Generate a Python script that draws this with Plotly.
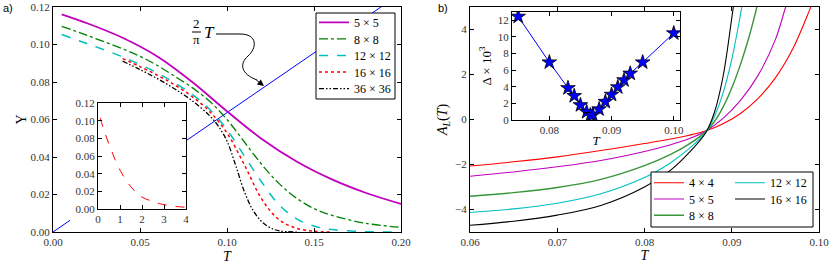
import numpy as np
import plotly.graph_objects as go

W, H = 830, 265

# ---------------- Panel a) : stiffness Upsilon(T) ----------------
a_T_5 = [0.005, 0.02, 0.04, 0.06, 0.08, 0.10, 0.12, 0.14, 0.16, 0.18, 0.20]
a_Y_5 = [0.1161, 0.1112, 0.1036, 0.0936, 0.0800, 0.0644, 0.0496, 0.0376, 0.0282, 0.0208, 0.0150]
a_T_8 = [0.005, 0.02, 0.04, 0.05, 0.06, 0.07, 0.08, 0.09, 0.10, 0.11, 0.12, 0.13, 0.14, 0.15, 0.16, 0.18, 0.20]
a_Y_8 = [0.1097, 0.1047, 0.0977, 0.0937, 0.0888, 0.0830, 0.0770, 0.0697, 0.0600, 0.0480, 0.0360,
         0.0258, 0.0180, 0.0125, 0.0090, 0.0046, 0.0025]
a_T_12 = [0.005, 0.02, 0.04, 0.06, 0.07, 0.08, 0.09, 0.10, 0.11, 0.12, 0.13, 0.14, 0.15, 0.16, 0.18, 0.20]
a_Y_12 = [0.1053, 0.1003, 0.0934, 0.0848, 0.0795, 0.0734, 0.0655, 0.0545, 0.0405, 0.0265, 0.0145,
          0.0070, 0.0032, 0.0013, 0.0002, 0.0]
a_T_16 = [0.04, 0.05, 0.06, 0.07, 0.08, 0.09, 0.10, 0.11, 0.12, 0.13, 0.14, 0.15, 0.16]
a_Y_16 = [0.0925, 0.0882, 0.0836, 0.0784, 0.0722, 0.0643, 0.0528, 0.0358, 0.0175, 0.0065, 0.0020, 0.0004, 0.0]
a_T_36 = [0.04, 0.05, 0.06, 0.07, 0.08, 0.09, 0.095, 0.10, 0.105, 0.11, 0.115, 0.12, 0.125, 0.13, 0.14]
a_Y_36 = [0.0911, 0.0866, 0.0818, 0.0763, 0.0700, 0.0620, 0.0565, 0.0485, 0.0355, 0.0215, 0.0115,
          0.0055, 0.0022, 0.0006, 0.0]

# line 2T/pi (the part hidden behind the inset and its labels is left out)
line_T = [0.0, 0.0098, None, 0.0764, 0.200]
line_Y = [None if t is None else 2.0 / np.pi * t for t in line_T]

# inset of a)
ai_x = [0.1, 0.3, 0.6, 1.0, 1.5, 2.0, 2.5, 2.8, 3.5, 4.0]
ai_y = [0.103, 0.087, 0.067, 0.044, 0.025, 0.0135, 0.0085, 0.0060, 0.0030, 0.0019]

# ---------------- Panel b) : A_L(T) ----------------
b_T_4 = [0.060, 0.065, 0.070, 0.075, 0.080, 0.083, 0.085, 0.087, 0.089, 0.091, 0.093, 0.095, 0.097, 0.099, 0.100]
b_A_4 = [-2.07, -1.88, -1.66, -1.38, -1.07, -0.87, -0.71, -0.51, -0.19, 0.27, 0.93, 1.85, 3.14, 4.94, 5.90]
b_T_5 = [0.060, 0.065, 0.070, 0.075, 0.080, 0.083, 0.085, 0.087, 0.089, 0.091, 0.093, 0.095, 0.0961, 0.0970]
b_A_5 = [-2.52, -2.33, -2.10, -1.82, -1.42, -1.12, -0.87, -0.52, 0.05, 0.85, 1.95, 3.55, 4.90, 6.00]
b_T_8 = [0.060, 0.065, 0.070, 0.075, 0.080, 0.083, 0.085, 0.087, 0.088, 0.089, 0.090, 0.091, 0.092, 0.0927, 0.0930]
b_A_8 = [-3.41, -3.25, -3.02, -2.66, -2.05, -1.55, -1.12, -0.55, -0.10, 0.55, 1.40, 2.45, 3.70, 4.72, 5.20]
b_T_12 = [0.060, 0.065, 0.070, 0.075, 0.080, 0.083, 0.085, 0.087, 0.088, 0.089, 0.090, 0.091, 0.0915]
b_A_12 = [-4.13, -3.97, -3.72, -3.30, -2.58, -1.92, -1.33, -0.58, 0.12, 1.17, 2.67, 4.67, 5.80]
b_T_16 = [0.060, 0.065, 0.070, 0.075, 0.080, 0.083, 0.085, 0.087, 0.088, 0.089, 0.090, 0.0904]
b_A_16 = [-4.70, -4.52, -4.25, -3.82, -3.00, -2.25, -1.52, -0.60, 0.30, 1.90, 4.50, 5.60]

# inset of b) : Delta x 10^3
bi_T = [0.075, 0.080, 0.083, 0.084, 0.085, 0.086, 0.0866, 0.087, 0.088, 0.089, 0.090, 0.091, 0.092, 0.093, 0.095, 0.100]
bi_D = [12.45, 6.95, 3.85, 2.90, 1.80, 0.97, 0.60, 0.60, 1.30, 2.20, 3.05, 3.95, 4.80, 5.60, 6.95, 10.45]

SERIF = "Liberation Serif, DejaVu Serif, serif"
TICKC = "#333333"


def px_x(p):
    return p / W


def px_y(p):
    return 1 - p / H


fig = go.Figure()

# legend entry placement (pixel centres) for the two legend boxes
LEG_A = [("legend", 314, 22.3), ("legend2", 314, 38.9), ("legend3", 314, 55.5),
         ("legend4", 314, 72.1), ("legend5", 314, 88.7)]
LEG_B = [("legend6", 649, 182.7), ("legend7", 649, 199.0), ("legend8", 649, 215.3),
         ("legend9", 730, 182.7), ("legend10", 730, 199.0)]

a_series = [
    (a_T_5, a_Y_5, "5 × 5", dict(color="#bf00bf", width=1.8, dash="solid")),
    (a_T_8, a_Y_8, "8 × 8", dict(color="#008000", width=1.3, dash="dashdot")),
    (a_T_12, a_Y_12, "12 × 12", dict(color="#00bfbf", width=1.5, dash="dash")),
    (a_T_16, a_Y_16, "16 × 16", dict(color="#ff0000", width=1.5, dash="dot")),
    (a_T_36, a_Y_36, "36 × 36", dict(color="#000000", width=1.3, dash="5px,2px,1.5px,2px,1.5px,2px")),
]
fig.add_trace(go.Scatter(x=line_T, y=line_Y, mode="lines", line=dict(color="#0000ff", width=1),
                         showlegend=False, xaxis="x", yaxis="y", hoverinfo="skip"))
for (t, y, nm, ln), (lg, _, _) in zip(a_series, LEG_A):
    fig.add_trace(go.Scatter(x=t, y=y, mode="lines", name=nm, line=dict(shape="spline", **ln),
                             xaxis="x", yaxis="y", legend=lg))

fig.add_trace(go.Scatter(x=ai_x, y=ai_y, mode="lines",
                         line=dict(color="#ff0000", width=1, dash="dash", shape="spline"),
                         showlegend=False, xaxis="x2", yaxis="y2"))

b_series = [
    (b_T_4, b_A_4, "4 × 4", "#ff0000", 1.1),
    (b_T_5, b_A_5, "5 × 5", "#bf00bf", 1.1),
    (b_T_8, b_A_8, "8 × 8", "#3a943a", 1.4),
    (b_T_12, b_A_12, "12 × 12", "#00bfbf", 1.1),
    (b_T_16, b_A_16, "16 × 16", "#000000", 1.1),
]
for (t, a, nm, c, wd), (lg, _, _) in zip(b_series, LEG_B):
    fig.add_trace(go.Scatter(x=t, y=a, mode="lines", name=nm, line=dict(color=c, width=wd, shape="spline"),
                             xaxis="x3", yaxis="y3", legend=lg))

fig.add_trace(go.Scatter(x=bi_T, y=bi_D, mode="lines+markers", line=dict(color="#0000ff", width=1),
                         marker=dict(symbol="star", size=11, color="#0000ff", line=dict(color="#000000", width=0.8)),
                         showlegend=False, xaxis="x4", yaxis="y4"))


def ax(dom_px, horizontal, rng, dtick, fmt, tick0=None):
    if horizontal:
        d = [px_x(dom_px[0]), px_x(dom_px[1])]
    else:
        d = [px_y(dom_px[1]), px_y(dom_px[0])]
    out = dict(domain=d, range=rng, dtick=dtick, tickformat=fmt, ticks="inside", ticklen=4,
               tickcolor="black", showline=True, linecolor="black", linewidth=1, mirror="ticks",
               showgrid=False, zeroline=False, automargin=False,
               tickfont=dict(family=SERIF, size=11, color=TICKC))
    if tick0 is not None:
        out["tick0"] = tick0
    return out


TF = dict(family=SERIF, size=14, color="black")
LEGF = dict(family=SERIF, size=12, color="black")

legends = {}
for lg, lx, cy in LEG_A + LEG_B:
    legends[lg] = dict(x=px_x(lx), y=px_y(cy - 14.5), xanchor="left", yanchor="top",
                       bgcolor="rgba(0,0,0,0)", borderwidth=0, itemwidth=30, font=LEGF)

fig.update_layout(
    width=W, height=H, margin=dict(l=0, r=0, t=0, b=0, pad=0, autoexpand=False),
    paper_bgcolor="white", plot_bgcolor="white",
    xaxis=dict(**ax([53, 401], True, [0, 0.2], 0.05, ".2f", 0), anchor="y",
               title=dict(text="<i>T</i>", font=TF, standoff=3)),
    yaxis=dict(**ax([7, 232], False, [0, 0.12], 0.02, ".2f", 0), anchor="x",
               title=dict(text="Υ", font=TF, standoff=0)),
    xaxis2=dict(**ax([98, 186], True, [0, 4], 1, "d", 0), anchor="y2"),
    yaxis2=dict(**ax([103, 209], False, [0, 0.12], 0.02, ".2f", 0), anchor="x2"),
    xaxis3=dict(**ax([470, 819], True, [0.06, 0.10], 0.01, ".2f", 0.06), anchor="y3",
                title=dict(text="<i>T</i>", font=TF, standoff=0)),
    yaxis3=dict(**ax([7, 232], False, [-5, 5], 2, "d", 0), anchor="x3",
                title=dict(text="<i>A<sub>L</sub></i>(<i>T</i>)", font=TF, standoff=4)),
    xaxis4=dict(**ax([512, 680], True, [0.074, 0.101], 0.01, ".2f", 0.08), anchor="y4",
                title=dict(text="<i>T</i>", font=dict(family=SERIF, size=13, color="black"), standoff=0)),
    yaxis4=dict(**ax([12, 120], False, [0, 13], 2, "d", 0), anchor="x4",
                title=dict(text="Δ × 10<sup>3</sup>", font=dict(family=SERIF, size=13, color="black"), standoff=3)),
    **legends,
)

shapes = [
    dict(type="rect", xref="paper", yref="paper", x0=px_x(316), x1=px_x(395), y0=px_y(99), y1=px_y(13),
         fillcolor="white", line=dict(color="black", width=1), layer="above"),
    dict(type="rect", xref="paper", yref="paper", x0=px_x(651), x1=px_x(813), y0=px_y(227), y1=px_y(172),
         fillcolor="white", line=dict(color="black", width=1), layer="above"),
    dict(type="line", xref="paper", yref="paper", x0=px_x(192), x1=px_x(201), y0=px_y(32), y1=px_y(32),
         line=dict(color="black", width=1), layer="above"),
]


def pth(pts):
    s = ""
    for cmd, coords in pts:
        s += cmd + " " + " ".join(f"{px_x(a):.5f},{px_y(b):.5f}" for a, b in coords) + " "
    return s.strip()


arrow_path = pth([("M", [(216, 34)]), ("L", [(240, 34)]),
                  ("C", [(258, 34), (257, 48), (248, 56)]),
                  ("C", [(239, 64), (241, 74), (257, 80)])])
shapes.append(dict(type="path", xref="paper", yref="paper", path=arrow_path,
                   line=dict(color="black", width=1), layer="above"))
fig.update_layout(shapes=shapes)

ann = [
    dict(text="a)", x=px_x(1), y=px_y(8), xanchor="left", yanchor="middle",
         font=dict(family="Liberation Sans, Arial, sans-serif", size=11, color="black")),
    dict(text="b)", x=px_x(436), y=px_y(8), xanchor="left", yanchor="middle",
         font=dict(family="Liberation Sans, Arial, sans-serif", size=11, color="black")),
    dict(text="2", x=px_x(196.5), y=px_y(24), xanchor="center", yanchor="middle",
         font=dict(family=SERIF, size=13, color="black")),
    dict(text="π", x=px_x(196.5), y=px_y(40), xanchor="center", yanchor="middle",
         font=dict(family=SERIF, size=13, color="black")),
    dict(text="<i>T</i>", x=px_x(202), y=px_y(33), xanchor="left", yanchor="middle",
         font=dict(family=SERIF, size=17, color="black")),
    dict(text="", x=px_x(264), y=px_y(86), ax=-9, ay=-7, showarrow=True, arrowhead=2,
         arrowsize=1.3, arrowwidth=1, arrowcolor="black"),
]
for a in ann:
    a.setdefault("xref", "paper")
    a.setdefault("yref", "paper")
    a.setdefault("showarrow", False)
fig.update_layout(annotations=ann)

fig.write_html("out.html", config={"displayModeBar": False},
               post_script="document.body.style.margin='0px';document.body.style.overflow='hidden';")
